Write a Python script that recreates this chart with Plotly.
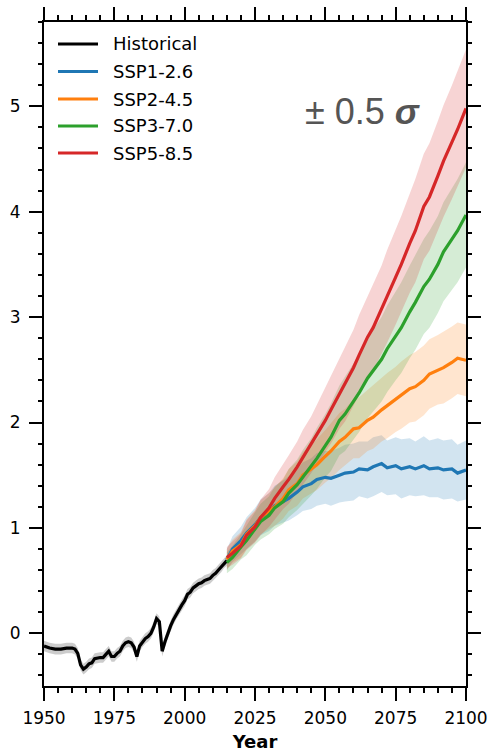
import plotly.graph_objects as go

# ---------------- data ----------------
hist_years = [1950, 1952, 1954, 1956, 1958, 1960, 1961, 1962, 1963, 1964, 1965, 1966, 1967, 1968,
              1970, 1971, 1972, 1973, 1974, 1975, 1976, 1977, 1978, 1979, 1980, 1981, 1982, 1983,
              1984, 1985, 1986, 1987, 1988, 1989, 1990, 1991, 1992, 1993, 1994, 1995, 1996, 1997,
              1998, 1999, 2000, 2001, 2002, 2003, 2004, 2005, 2006, 2007, 2008, 2009, 2010, 2011,
              2012, 2013, 2014, 2015]
hist_vals = [-0.12, -0.14, -0.15, -0.15, -0.14, -0.14, -0.15, -0.19, -0.30, -0.34, -0.32, -0.29, -0.28, -0.24,
             -0.23, -0.23, -0.20, -0.17, -0.22, -0.22, -0.19, -0.17, -0.12, -0.09, -0.08, -0.09, -0.13, -0.22,
             -0.12, -0.08, -0.05, -0.03, 0.00, 0.06, 0.14, 0.11, -0.17, -0.08, 0.00, 0.07, 0.13, 0.18,
             0.22, 0.27, 0.31, 0.37, 0.39, 0.43, 0.45, 0.47, 0.48, 0.50, 0.51, 0.52, 0.55, 0.57,
             0.60, 0.63, 0.67, 0.69]
hist_half = 0.05

scen_years = [2015, 2017, 2020, 2022, 2025, 2027, 2030, 2032, 2035, 2037,
              2040, 2042, 2045, 2047, 2050, 2052, 2055, 2057, 2060, 2062,
              2065, 2067, 2070, 2072, 2075, 2077, 2080, 2082, 2085, 2087,
              2090, 2092, 2095, 2097, 2100]
ssp126 = [0.70, 0.80, 0.88, 0.95, 1.03, 1.10, 1.15, 1.21, 1.25, 1.28,
          1.34, 1.39, 1.42, 1.46, 1.48, 1.47, 1.50, 1.52, 1.53, 1.56,
          1.55, 1.58, 1.61, 1.57, 1.59, 1.56, 1.58, 1.56, 1.59, 1.56,
          1.57, 1.55, 1.56, 1.52, 1.55]
ssp245 = [0.70, 0.78, 0.84, 0.94, 1.02, 1.10, 1.16, 1.20, 1.28, 1.36,
          1.42, 1.50, 1.56, 1.60, 1.68, 1.73, 1.82, 1.86, 1.94, 1.95,
          2.02, 2.05, 2.12, 2.16, 2.22, 2.26, 2.32, 2.34, 2.40, 2.46,
          2.50, 2.52, 2.57, 2.61, 2.59]
ssp370 = [0.67, 0.72, 0.82, 0.88, 0.99, 1.06, 1.12, 1.19, 1.25, 1.33,
          1.41, 1.48, 1.58, 1.66, 1.78, 1.86, 2.02, 2.08, 2.20, 2.28,
          2.42, 2.49, 2.60, 2.70, 2.82, 2.90, 3.05, 3.14, 3.29, 3.36,
          3.50, 3.62, 3.74, 3.82, 3.97]
ssp585 = [0.72, 0.76, 0.83, 0.93, 1.01, 1.10, 1.19, 1.28, 1.39, 1.46,
          1.58, 1.67, 1.79, 1.88, 2.02, 2.12, 2.27, 2.36, 2.52, 2.64,
          2.81, 2.90, 3.07, 3.20, 3.38, 3.50, 3.70, 3.82, 4.05, 4.14,
          4.34, 4.48, 4.66, 4.78, 4.98]
# half width of the shaded band (0.5 sigma)
half126 = [0.10, 0.12, 0.13, 0.15, 0.16, 0.17, 0.18, 0.19, 0.20, 0.21,
           0.22, 0.23, 0.24, 0.25, 0.25, 0.26, 0.26, 0.27, 0.27, 0.26,
           0.27, 0.28, 0.27, 0.26, 0.27, 0.28, 0.27, 0.26, 0.28, 0.27,
           0.28, 0.28, 0.28, 0.27, 0.28]
half245 = [0.10, 0.11, 0.12, 0.14, 0.15, 0.16, 0.17, 0.18, 0.19, 0.20,
           0.21, 0.22, 0.23, 0.24, 0.25, 0.26, 0.27, 0.27, 0.28, 0.29,
           0.29, 0.30, 0.30, 0.31, 0.31, 0.32, 0.32, 0.33, 0.33, 0.33,
           0.33, 0.34, 0.34, 0.34, 0.34]
half370 = [0.10, 0.11, 0.12, 0.14, 0.15, 0.17, 0.18, 0.20, 0.21, 0.23,
           0.24, 0.26, 0.27, 0.29, 0.30, 0.32, 0.33, 0.35, 0.36, 0.37,
           0.38, 0.39, 0.40, 0.41, 0.42, 0.43, 0.44, 0.45, 0.45, 0.46,
           0.46, 0.47, 0.48, 0.49, 0.50]
half585 = [0.10, 0.11, 0.12, 0.14, 0.15, 0.17, 0.18, 0.20, 0.21, 0.23,
           0.24, 0.26, 0.27, 0.29, 0.30, 0.32, 0.33, 0.35, 0.36, 0.38,
           0.39, 0.41, 0.42, 0.44, 0.45, 0.46, 0.47, 0.49, 0.50, 0.51,
           0.52, 0.53, 0.54, 0.55, 0.56]

names = ["Historical", "SSP1-2.6", "SSP2-4.5", "SSP3-7.0", "SSP5-8.5"]
colors = ["#000000", "#1f77b4", "#ff7f0e", "#2ca02c", "#d62728"]
bands = ["rgba(0,0,0,0.2)", "rgba(31,119,180,0.2)", "rgba(255,127,14,0.2)",
         "rgba(44,160,44,0.2)", "rgba(214,39,40,0.2)"]

series = [(hist_years, hist_vals, [hist_half] * len(hist_vals)),
          (scen_years, ssp126, half126),
          (scen_years, ssp245, half245),
          (scen_years, ssp370, half370),
          (scen_years, ssp585, half585)]

fig = go.Figure()
# bands
for (xs, ys, hw), bc, nm in zip(series, bands, names):
    up = [y + h for y, h in zip(ys, hw)]
    lo = [y - h for y, h in zip(ys, hw)]
    fig.add_trace(go.Scatter(x=list(xs) + list(xs)[::-1], y=up + lo[::-1], fill="toself",
                             fillcolor=bc, line=dict(width=0), mode="lines",
                             hoverinfo="skip", showlegend=False, name=nm + " band"))
# lines
for (xs, ys, hw), c, nm in zip(series, colors, names):
    fig.add_trace(go.Scatter(x=xs, y=ys, mode="lines", line=dict(color=c, width=3.2),
                             name=nm, showlegend=False))

W, H = 491, 752
ML, MR, MT, MB = 44, 25, 22, 66
pw, ph = W - ML - MR, H - MT - MB

def px2paper_x(px):
    return (px - ML) / pw

def py2paper_y(py):
    return (H - MB - py) / ph

# manual legend
leg_y = [44, 71.5, 99, 126, 153]
shapes = []
annotations = []
for nm, c, yy in zip(names, colors, leg_y):
    shapes.append(dict(type="line", xref="paper", yref="paper",
                       x0=px2paper_x(58), x1=px2paper_x(98),
                       y0=py2paper_y(yy), y1=py2paper_y(yy),
                       line=dict(color=c, width=3)))
    annotations.append(dict(text=nm, xref="paper", yref="paper", x=px2paper_x(111),
                            y=py2paper_y(yy), xanchor="left", yanchor="middle",
                            showarrow=False, font=dict(size=18, color="#000000",
                                                       family="DejaVu Sans")))

annotations.append(dict(text="± 0.5 <b><i>σ</i></b>", xref="paper", yref="paper",
                        x=px2paper_x(363), y=py2paper_y(111), xanchor="center",
                        yanchor="middle", showarrow=False,
                        font=dict(size=36, color="#555555", family="Liberation Sans")))

axis_common = dict(showline=True, linecolor="black", linewidth=2, mirror="ticks",
                   ticks="outside", ticklen=13, tickwidth=2, tickcolor="black",
                   showgrid=False, zeroline=False, automargin=False,
                   tickfont=dict(size=17, family="DejaVu Sans", color="black"))

fig.update_layout(
    width=W, height=H,
    margin=dict(l=ML, r=MR, t=MT, b=MB, autoexpand=False),
    paper_bgcolor="white", plot_bgcolor="white",
    showlegend=False,
    shapes=shapes, annotations=annotations,
    xaxis=dict(range=[1950, 2100], tick0=1950, dtick=25, ticklabelstandoff=3,
               minor=dict(dtick=5, ticks="outside", ticklen=5, tickwidth=1.5, tickcolor="black"),
               title=dict(text="<b>Year</b>", font=dict(size=18, family="DejaVu Sans", color="black"),
                          standoff=14),
               **axis_common),
    yaxis=dict(range=[-0.5, 5.8], tick0=0, dtick=1, ticklabelstandoff=5,
               minor=dict(dtick=0.2, ticks="outside", ticklen=4, tickwidth=1.5, tickcolor="black"),
               **axis_common),
)

fig.write_html("out.html")
